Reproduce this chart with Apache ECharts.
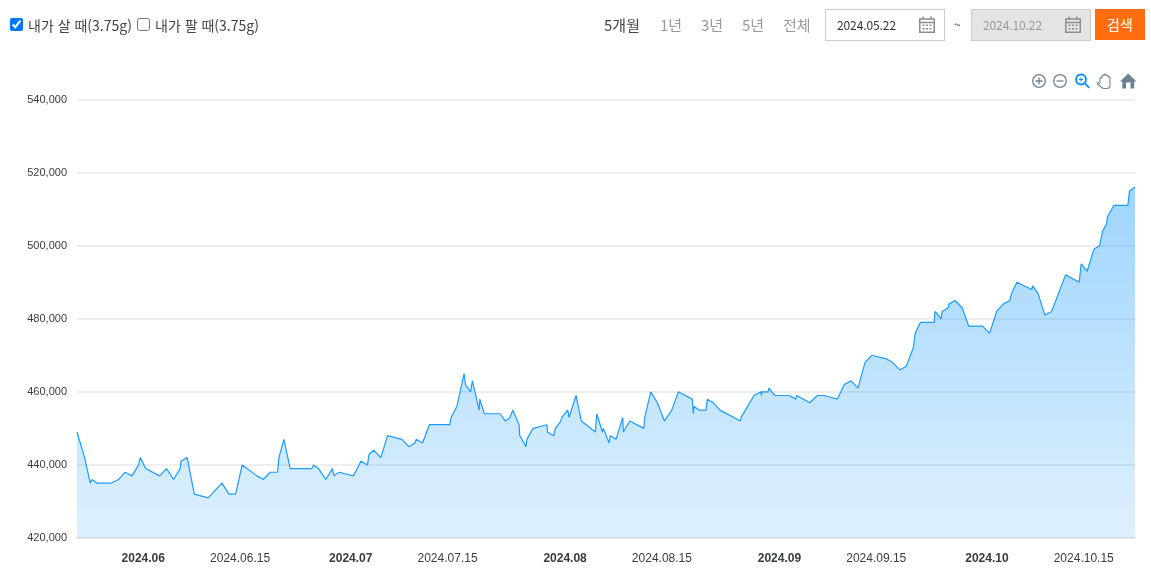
<!DOCTYPE html>
<html lang="ko">
<head>
<meta charset="utf-8">
<title>내가 살 때</title>
<script src="https://cdn.jsdelivr.net/npm/echarts@6/dist/echarts.min.js"></script>
<style>
  html, body { margin: 0; padding: 0; background: #fff; }
  body { width: 1151px; height: 582px; position: relative; overflow: hidden; font-family: "Noto Sans CJK KR", "Noto Sans", sans-serif; color: #444; }
  #chart { position: absolute; left: 0; top: 0; width: 1151px; height: 582px; }
  .abs { position: absolute; white-space: nowrap; }
  .chk { position: absolute; top: 18px; width: 13px; height: 13px; margin: 0; }
  .lbl { top: 14px; font-size: 14px; line-height: 22px; }
  .period { top: 14px; font-size: 15px; line-height: 22px; color: #999; }
  .box { top: 9px; height: 30px; width: 118px; border: 1px solid #ccc; font-size: 12px; line-height: 30px; }
  .box span { position: absolute; left: 11px; letter-spacing: -0.1px; }
  .box svg { position: absolute; left: 93px; top: 6px; }
  .btn { left: 1095px; top: 9px; width: 50px; height: 31px; background: #ff6d0f; color: #fff; font-size: 14px; line-height: 31px; text-align: center; }
</style>
</head>
<body>
<div id="chart"></div>

<input type="checkbox" class="chk" style="left:10px" checked>
<div class="abs lbl" style="left:28px">내가 살 때(3.75g)</div>
<input type="checkbox" class="chk" style="left:137px">
<div class="abs lbl" style="left:155px">내가 팔 때(3.75g)</div>

<div class="abs period" style="left:604px;color:#444">5개월</div>
<div class="abs period" style="left:660px">1년</div>
<div class="abs period" style="left:701px">3년</div>
<div class="abs period" style="left:742px">5년</div>
<div class="abs period" style="left:783px">전체</div>

<div class="abs box" style="left:825px;color:#333"><span>2024.05.22</span>
  <svg width="16" height="17" viewBox="0 0 16 17"><path d="M0.75 3h14.5v13.25H0.75z M0.75 6.5h14.5" fill="none" stroke="#8d8d8d" stroke-width="1.5"/><path d="M4 0.5v3M12 0.5v3" stroke="#8d8d8d" stroke-width="1.5"/><path d="M3.5 8.5h2v1.5h-2zM7 8.5h2v1.5h-2zM10.5 8.5h2v1.5h-2zM3.5 12h2v1.5h-2zM7 12h2v1.5h-2zM10.5 12h2v1.5h-2z" fill="#8d8d8d"/></svg>
</div>
<div class="abs" style="left:954px;top:13px;font-size:12px;line-height:22px">~</div>
<div class="abs box" style="left:971px;background:#e4e4e4;color:#999"><span>2024.10.22</span>
  <svg width="16" height="17" viewBox="0 0 16 17"><path d="M0.75 3h14.5v13.25H0.75z M0.75 6.5h14.5" fill="none" stroke="#8d8d8d" stroke-width="1.5"/><path d="M4 0.5v3M12 0.5v3" stroke="#8d8d8d" stroke-width="1.5"/><path d="M3.5 8.5h2v1.5h-2zM7 8.5h2v1.5h-2zM10.5 8.5h2v1.5h-2zM3.5 12h2v1.5h-2zM7 12h2v1.5h-2zM10.5 12h2v1.5h-2z" fill="#8d8d8d"/></svg>
</div>
<div class="abs btn">검색</div>

<!-- chart toolbar -->
<svg class="abs" style="left:1030px;top:72px" width="110" height="18" viewBox="0 0 110 18">
  <g fill="none" stroke="#6e8192" stroke-width="1.3">
    <circle cx="9" cy="9" r="6.3"/><path d="M5.5 9h7M9 5.5v7"/>
    <circle cx="30" cy="9" r="6.3"/><path d="M26.5 9h7"/>
  </g>
  <g fill="none" stroke="#008ffb" stroke-width="1.8">
    <circle cx="51" cy="7.5" r="5"/><path d="M54.8 11.3l4.5 4.5"/>
  </g>
  <path d="M48.8 7.5h4.4M51 5.3v4.4" stroke="#008ffb" stroke-width="1"/>
  <path d="M70 10V6.5a1 1 0 0 1 2 0V4a1 1 0 0 1 2 0V3a1 1 0 0 1 2 0V4a1 1 0 0 1 2 0v1.5a1 1 0 0 1 2 0V13a3.5 3.5 0 0 1-3.5 3.5h-2.5a4 4 0 0 1-3-1.6L67.5 12a1 1 0 0 1 1.6-1.2L70 12" fill="none" stroke="#6e8192" stroke-width="1.1"/>
  <path d="M96 16.5v-6h4.5v6h3.7V9.5h2.3L98.2 1.5 90 9.5h2.3v7z" fill="#6e8192"/>
</svg>

<script>
// chart starts 2024-05-22 10:00 and ends 2024-10-22 10:00
var startTime = Date.UTC(2024, 4, 22, 10);
var endTime = Date.UTC(2024, 9, 22, 10);

// days since startTime for every sample
var sampleDays = [
  0, 1.10, 1.92, 2.17, 2.89, 4.91, 6.01, 6.94, 7.95, 8.90, 9.15, 9.92, 11.94, 12.95, 13.96, 14.93, 15.03, 15.94, 16.96, 18.98,
  20.96, 21.97, 22.93, 23.89, 26.02, 26.93, 27.94, 29.00, 29.20, 29.92, 30.83, 33.97, 34.20, 34.92, 35.99, 36.95, 37.15, 37.87, 39.98, 41.05,
  42.01, 42.25, 42.93, 43.94, 44.90, 46.98, 47.99, 48.86, 49.05, 49.96, 50.97, 53.92, 54.10, 54.93, 55.98, 56.17, 56.90, 57.18, 58.15, 58.25,
  58.92, 61.19, 61.95, 62.63, 63.02, 63.93, 64.03, 64.95, 65.05, 65.96, 67.98, 68.03, 68.95, 69.18, 69.96, 70.11, 70.97, 71.16, 72.17, 72.94,
  74.96, 75.17, 75.98, 76.12, 76.94, 77.13, 77.96, 78.92, 79.01, 79.94, 81.96, 82.10, 82.97, 83.93, 84.94, 86.01, 86.96, 88.98, 89.13, 89.23,
  89.95, 90.97, 91.15, 92.02, 92.99, 95.93, 96.03, 97.91, 98.92, 98.98, 99.02, 99.93, 100.03, 100.94, 102.96, 103.93, 104.08, 105.96, 107.05, 108.02,
  109.95, 110.96, 111.93, 112.94, 113.95, 114.92, 117.09, 117.96, 119.01, 119.92, 120.93, 121.22, 121.95, 123.97, 124.07, 124.98, 125.12, 125.99, 126.09, 126.96,
  128.01, 128.94, 130.96, 131.97, 132.99, 133.94, 134.91, 135.16, 135.92, 138.05, 138.19, 138.96, 139.97, 140.94, 142.96, 144.93, 145.22, 146.08, 147.05, 147.88,
  148.31, 148.89, 149.03, 149.94, 151.96, 152.21, 153
];
var buyPrices = [
  449000, 442000, 435000, 436000, 435000, 435000, 436000, 438000, 437000, 440000, 442000, 439000, 437000, 439000, 436000, 439000, 441000, 442000, 432000, 431000,
  435000, 432000, 432000, 440000, 437000, 436000, 438000, 438000, 442000, 447000, 439000, 439000, 440000, 439000, 436000, 439000, 437000, 438000, 437000, 441000,
  440000, 443000, 444000, 442000, 448000, 447000, 445000, 446000, 447000, 446000, 451000, 451000, 453000, 456000, 465000, 462000, 460000, 463000, 455000, 458000,
  454000, 454000, 452000, 453000, 455000, 451000, 448000, 445000, 447000, 450000, 451000, 449000, 448000, 450000, 452000, 453000, 455000, 453000, 459000, 452000,
  449000, 454000, 449000, 450000, 446000, 448000, 447000, 453000, 449000, 452000, 450000, 453000, 460000, 457000, 452000, 455000, 460000, 458000, 454000, 456000,
  455000, 455000, 458000, 457000, 455000, 452000, 453000, 459000, 460000, 459000, 460000, 460000, 461000, 459000, 459000, 458000, 459000, 457000, 459000, 459000,
  458000, 462000, 463000, 461000, 468000, 470000, 469000, 468000, 466000, 467000, 472000, 476000, 479000, 479000, 482000, 480000, 482000, 483000, 484000, 485000,
  483000, 478000, 478000, 476000, 482000, 484000, 485000, 487000, 490000, 488000, 489000, 487000, 481000, 482000, 492000, 490000, 495000, 493000, 499000, 500000,
  504000, 506000, 508000, 511000, 511000, 515000, 516000
];

// x axis labels: month starts are bold, mid-month are plain
var monthTicks = ["2024-06-01", "2024-07-01", "2024-08-01", "2024-09-01", "2024-10-01"];
var midTicks = ["2024-06-15", "2024-07-15", "2024-08-15", "2024-09-15", "2024-10-15"];

var toTime = function (s) { return new Date(s + "T00:00:00Z").getTime(); };
var pad = function (n) { return n < 10 ? "0" + n : "" + n; };

var chart = echarts.init(document.getElementById("chart"), null, { renderer: "canvas" });
var option = {
  animation: false,
  textStyle: { fontFamily: '"Liberation Sans", Arial, sans-serif' },
  grid: { left: 77, right: 16, top: 99.5, height: 438.5, containLabel: false },
  xAxis: {
    // time values on a value axis so the labels can sit on fixed dates
    type: "value",
    min: startTime,
    max: endTime,
    axisLine: { show: true, onZero: false, lineStyle: { color: "#e6e8ea", width: 2 } },
    axisTick: { show: false },
    splitLine: { show: false },
    axisLabel: {
      customValues: monthTicks.concat(midTicks).map(toTime),
      margin: 15,
      hideOverlap: false,
      formatter: function (value) {
        var d = new Date(value);
        var text = d.getUTCFullYear() + "." + pad(d.getUTCMonth() + 1);
        if (d.getUTCDate() === 1) {
          return "{month|" + text + "}";
        }
        return "{day|" + text + "." + pad(d.getUTCDate()) + "}";
      },
      rich: {
        month: { fontSize: 12, fontWeight: "bold", color: "#373d3f", fontFamily: '"Liberation Sans", Arial, sans-serif' },
        day: { fontSize: 12, color: "#373d3f", fontFamily: '"Liberation Sans", Arial, sans-serif' }
      }
    }
  },
  yAxis: {
    type: "value",
    min: 420000,
    max: 540000,
    interval: 20000,
    axisLine: { show: false },
    axisTick: { show: false },
    splitLine: { lineStyle: { color: "#eeeeee", width: 2 } },
    axisLabel: {
      margin: 10,
      fontSize: 11,
      color: "#373d3f",
      padding: [0, 0, 5, 0],
      formatter: function (value) {
        return value.toLocaleString("en-US");
      }
    }
  },
  series: [
    {
      name: "내가 살 때(3.75g)",
      type: "line",
      showSymbol: false,
      smooth: false,
      data: sampleDays.map(function (day, i) {
        return [startTime + day * 86400000, buyPrices[i]];
      }),
      lineStyle: { color: "#1e9bff", width: 1.2 },
      areaStyle: {
        opacity: 1,
        color: new echarts.graphic.LinearGradient(0, 0, 0, 1, [
          { offset: 0, color: "rgba(0,143,251,0.38)" },
          { offset: 1, color: "rgba(0,143,251,0.13)" }
        ])
      }
    }
  ]
};
chart.setOption(option);
</script>
</body>
</html>
